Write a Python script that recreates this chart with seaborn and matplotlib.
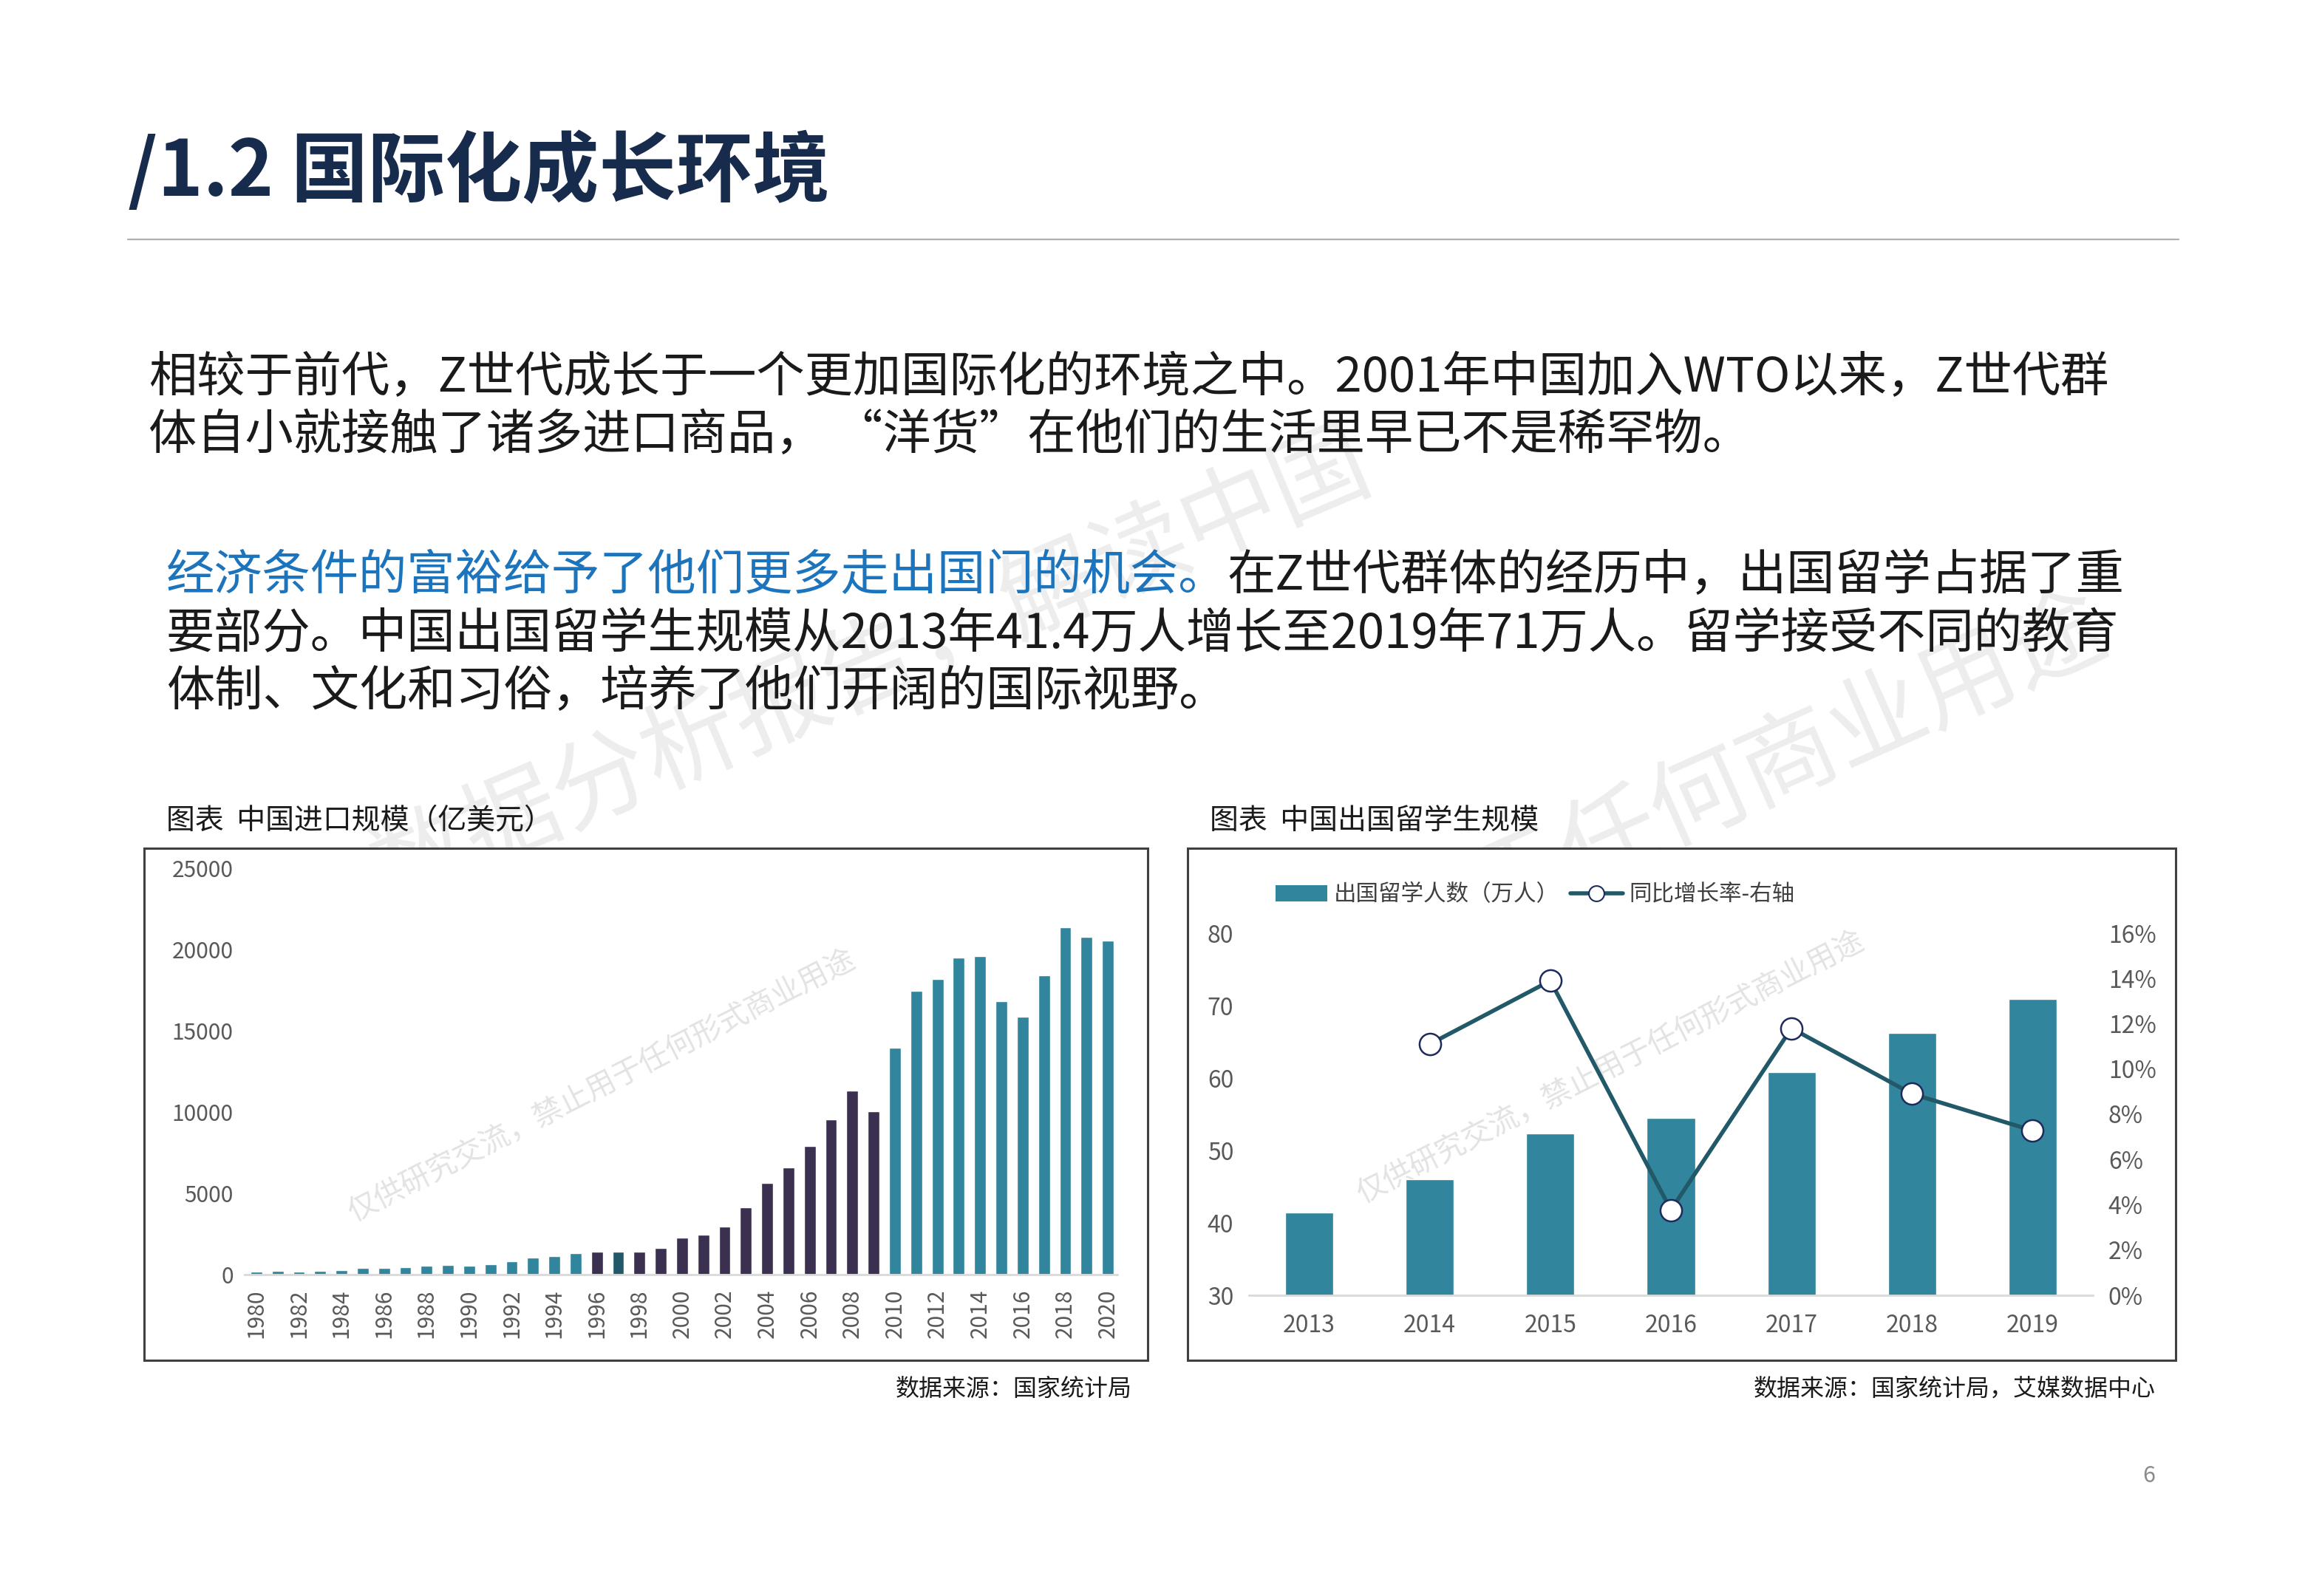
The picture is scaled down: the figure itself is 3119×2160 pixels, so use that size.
import matplotlib
matplotlib.use("Agg")
import matplotlib.pyplot as plt
import seaborn as sns
from matplotlib.patches import Rectangle, Patch
from matplotlib.lines import Line2D
from matplotlib.ticker import FuncFormatter

# ---- data ----
import_years = list(range(1980, 2021))
import_values = [200, 220, 192, 214, 274, 423, 429, 432, 553, 591,
                 534, 638, 806, 1040, 1156, 1321, 1388, 1424, 1402, 1657,
                 2251, 2436, 2952, 4128, 5614, 6600, 7915, 9560, 11326, 10059,
                 13948, 17435, 18184, 19500, 19592, 16796, 15879, 18410, 21357, 20771,
                 20556]

study_years = ["2013", "2014", "2015", "2016", "2017", "2018", "2019"]
study_values = [41.39, 45.98, 52.37, 54.45, 60.84, 66.21, 70.9]
growth_years = ["2014", "2015", "2016", "2017", "2018", "2019"]
growth_rates = [0.111, 0.139, 0.0377, 0.118, 0.089, 0.0728]

W, H = 3119, 2160
TEAL = "#31859c"
PURPLE = "#3b3050"
DARKTEAL = "#215968"
NAVY = "#1f2a5c"
TICK = "#595959"


def fx(x):
    return x / W


def fy(y):
    return 1 - y / H


sns.set_theme(style="white")
plt.rcParams["font.family"] = ["Noto Sans CJK SC", "DejaVu Sans"]

fig = plt.figure(figsize=(W / 100, H / 100), dpi=100)
fig.patch.set_facecolor("white")

# big background watermarks
fig.text(fx(1180), fy(905), "数据分析报告，解读中国", fontsize=95, color="#ededed",
         rotation=23, ha="center", va="center", zorder=-3)
fig.text(fx(2240), fy(1110), "禁止用于任何商业用途", fontsize=95, color="#ededed",
         rotation=24, ha="center", va="center", zorder=-3)

# title and rule
fig.text(fx(173), fy(233), "/1.2 国际化成长环境", fontsize=75, fontweight="black",
         color="#172b4d", ha="left", va="center")
fig.add_artist(Line2D([fx(173), fx(2948)], [fy(324), fy(324)], color="#b0b0b0",
                      lw=1.6, transform=fig.transFigure))

# paragraphs
para_size = 47
fig.text(fx(201), fy(512), "相较于前代，Z世代成长于一个更加国际化的环境之中。2001年中国加入WTO以来，Z世代群",
         fontsize=para_size, color="#1a1a1a", ha="left", va="center")
fig.text(fx(201), fy(590), "体自小就接触了诸多进口商品， “洋货”在他们的生活里早已不是稀罕物。",
         fontsize=para_size, color="#1a1a1a", ha="left", va="center")

renderer = fig.canvas.get_renderer()
blue = fig.text(fx(225), fy(780), "经济条件的富裕给予了他们更多走出国门的机会。",
                fontsize=para_size, color="#1c74bc", ha="left", va="center")
bb = blue.get_window_extent(renderer)
fig.text(bb.x1 / W, fy(780), "在Z世代群体的经历中，出国留学占据了重",
         fontsize=para_size, color="#1a1a1a", ha="left", va="center")
fig.text(fx(225), fy(859), "要部分。中国出国留学生规模从2013年41.4万人增长至2019年71万人。留学接受不同的教育",
         fontsize=para_size, color="#1a1a1a", ha="left", va="center")
fig.text(fx(225), fy(937), "体制、文化和习俗，培养了他们开阔的国际视野。",
         fontsize=para_size, color="#1a1a1a", ha="left", va="center")

# chart titles / sources / page number
fig.text(fx(225), fy(1111), "图表  中国进口规模（亿美元）", fontsize=28, color="#1a1a1a",
         ha="left", va="center")
fig.text(fx(1637), fy(1111), "图表  中国出国留学生规模", fontsize=28, color="#1a1a1a",
         ha="left", va="center")
fig.text(fx(1532), fy(1880), "数据来源：国家统计局", fontsize=23, color="#1a1a1a",
         ha="right", va="center")
fig.text(fx(2917), fy(1880), "数据来源：国家统计局，艾媒数据中心", fontsize=23, color="#1a1a1a",
         ha="right", va="center")
fig.text(fx(2908), fy(1997), "6", fontsize=22, color="#8c8c8c", ha="center", va="center")

# chart boxes
for x0, x1 in [(195, 1553), (1607, 2944)]:
    fig.add_artist(Rectangle((fx(x0), fy(1841)), (x1 - x0) / W, (1841 - 1148) / H,
                             transform=fig.transFigure, facecolor="white",
                             edgecolor="#404040", lw=2.2, zorder=-1))

# small watermarks inside charts
for cx, cy in [(815, 1470), (2180, 1445)]:
    fig.text(fx(cx), fy(cy), "仅供研究交流，禁止用于任何形式商业用途", fontsize=29,
             color="#e3e3e3", rotation=27, ha="center", va="center", zorder=-0.5)

# ---- left chart: imports ----
ax1 = fig.add_axes([fx(331), fy(1725), (1512 - 331) / W, (1725 - 1175) / H])
ax1.set_facecolor("none")
year_labels = [str(y) for y in import_years]
bar_colors = []
for y in import_years:
    if y == 1997:
        bar_colors.append(DARKTEAL)
    elif 1996 <= y <= 2009:
        bar_colors.append(PURPLE)
    else:
        bar_colors.append(TEAL)
sns.barplot(x=year_labels, y=import_values, hue=year_labels, palette=bar_colors,
            legend=False, width=0.55, saturation=1, ax=ax1)
ax1.set_xlim(-0.55, 40.45)
ax1.set_ylim(0, 25000)
ax1.set_yticks(range(0, 25001, 5000))
ax1.set_xticks(range(0, len(year_labels), 2))
ax1.set_xticklabels(year_labels[::2], rotation=90)
ax1.tick_params(axis="y", length=0, pad=11, labelsize=21.5, labelcolor=TICK)
ax1.tick_params(axis="x", length=0, pad=14, labelsize=21.5, labelcolor=TICK)
ax1.set_xlabel("")
ax1.set_ylabel("")
for s in ["top", "right", "left"]:
    ax1.spines[s].set_visible(False)
ax1.spines["bottom"].set_color("#d9d9d9")
ax1.spines["bottom"].set_linewidth(2)

# ---- right chart: students abroad ----
ax2 = fig.add_axes([fx(1690), fy(1753), (2832 - 1690) / W, (1753 - 1263) / H])
ax2.set_facecolor("none")
sns.barplot(x=study_years, y=study_values, color=TEAL, width=0.4, saturation=1, ax=ax2)
ax2.set_ylim(30, 80)
ax2.set_yticks(range(30, 81, 10))
ax2.tick_params(axis="y", length=0, pad=15, labelsize=23, labelcolor=TICK)
ax2.tick_params(axis="x", length=0, pad=18, labelsize=23, labelcolor=TICK)
ax2.set_xlabel("")
ax2.set_ylabel("")
for s in ["top", "right", "left"]:
    ax2.spines[s].set_visible(False)
ax2.spines["bottom"].set_color("#d9d9d9")
ax2.spines["bottom"].set_linewidth(2)

ax3 = ax2.twinx()
growth_pos = [study_years.index(y) for y in growth_years]
sns.lineplot(x=growth_pos, y=growth_rates, ax=ax3, color=DARKTEAL, lw=4,
             marker="o", markersize=21, markerfacecolor="white",
             markeredgecolor=NAVY, markeredgewidth=1.8)
ax3.set_ylim(0, 0.16)
ax3.set_yticks([i / 100 for i in range(0, 17, 2)])
ax3.yaxis.set_major_formatter(FuncFormatter(lambda v, p: f"{v * 100:.0f}%"))
ax3.tick_params(axis="y", length=0, pad=15, labelsize=23, labelcolor=TICK)
ax3.set_ylabel("")
for s in ax3.spines.values():
    s.set_visible(False)
ax2.set_xlim(-0.5, 6.5)

handles = [Patch(facecolor=TEAL, edgecolor="none"),
           Line2D([0], [0], color=DARKTEAL, lw=4, marker="o", markersize=15,
                  markerfacecolor="white", markeredgecolor=NAVY, markeredgewidth=1.5)]
fig.legend(handles, ["出国留学人数（万人）", "同比增长率-右轴"], loc="center left",
           bbox_to_anchor=(fx(1698), fy(1211)), ncol=2, frameon=False, fontsize=22,
           handlelength=2.3, handletextpad=0.3, columnspacing=0.5,
           labelcolor="#404040")

fig.savefig("out.png", dpi=100, facecolor="white")
